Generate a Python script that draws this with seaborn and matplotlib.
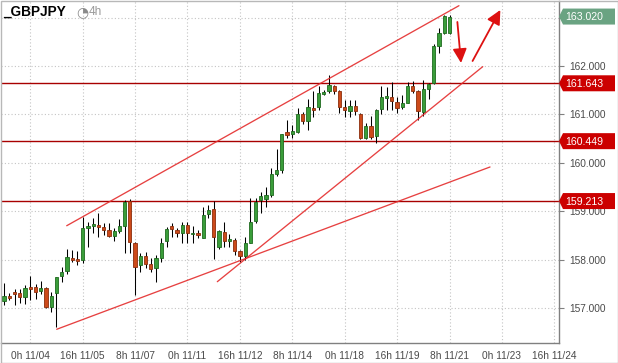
import numpy as np
import pandas as pd
import matplotlib
matplotlib.use("Agg")
import matplotlib.pyplot as plt
from matplotlib.patches import Polygon, Rectangle
from matplotlib.ticker import FuncFormatter
from matplotlib.transforms import IdentityTransform
import seaborn as sns

# GBPJPY 4h candles
opens = [157.157, 157.254, 157.343, 157.315, 157.240, 157.439, 157.439, 157.364, 157.419, 157.033,
         157.322, 157.673, 157.763, 158.038, 158.017, 157.996, 158.664, 158.705, 158.726, 158.684,
         158.616, 158.499, 158.602, 158.705, 159.214, 158.354, 157.893, 158.079, 157.914, 157.825,
         158.045, 158.389, 158.698, 158.616, 158.547, 158.726, 158.526, 158.547, 158.457, 158.946,
         159.049, 158.272, 158.581, 158.395, 158.409, 158.189, 158.086, 158.354, 158.808, 159.235,
         159.255, 159.338, 159.771, 159.854, 160.638, 160.590, 160.645, 161.009, 160.872, 161.133,
         161.147, 161.422, 161.491, 161.587, 161.491, 161.161, 161.078, 161.174, 161.009, 160.507,
         160.762, 160.555, 161.106, 161.346, 161.353, 161.257, 161.161, 161.243, 161.587, 161.491,
         161.057, 161.532, 161.642, 162.413, 162.688, 162.688]
highs = [157.515, 157.309, 157.391, 157.398, 157.480, 157.666, 157.501, 157.563, 157.430, 157.343,
         157.650, 157.859, 158.223, 158.203, 158.182, 158.891, 158.774, 158.863, 158.973, 158.753,
         158.753, 158.650, 158.836, 159.235, 159.255, 158.375, 158.148, 158.169, 158.031, 158.100,
         158.457, 158.684, 158.767, 158.650, 158.774, 158.774, 158.698, 158.616, 159.097, 159.131,
         159.214, 158.616, 158.788, 158.533, 158.443, 158.203, 158.478, 159.269, 159.269, 159.407,
         159.510, 159.888, 160.287, 160.600, 160.886, 160.782, 161.126, 161.058, 161.312, 161.484,
         161.587, 161.505, 161.814, 161.600, 161.505, 161.298, 161.298, 161.298, 161.020, 160.817,
         160.968, 161.106, 161.587, 161.573, 161.677, 161.353, 161.401, 161.677, 161.690, 161.505,
         161.711, 161.656, 162.447, 162.777, 163.052, 163.052]
lows = [157.068, 157.171, 157.068, 157.116, 157.088, 157.171, 157.198, 157.295, 156.999, 156.923,
        156.621, 157.549, 157.708, 157.962, 157.893, 157.941, 158.258, 158.547, 158.478, 158.512,
        158.478, 158.395, 158.547, 158.148, 158.134, 157.274, 157.756, 157.825, 157.756, 157.549,
        157.962, 158.272, 158.478, 158.478, 158.340, 158.340, 158.340, 158.444, 158.444, 158.856,
        158.010, 158.217, 158.272, 158.272, 158.099, 157.962, 157.996, 158.340, 158.753, 158.973,
        159.083, 159.303, 159.730, 159.785, 160.507, 160.507, 160.610, 160.803, 160.679, 160.954,
        161.092, 161.402, 161.450, 161.422, 161.037, 160.954, 160.954, 160.989, 160.486, 160.486,
        160.486, 160.404, 161.002, 161.092, 161.092, 161.023, 161.106, 161.229, 161.436, 160.885,
        160.968, 161.312, 161.628, 162.275, 162.660, 162.660]
closes = [157.254, 157.219, 157.302, 157.233, 157.412, 157.398, 157.343, 157.419, 157.020, 157.254,
          157.639, 157.749, 158.051, 157.996, 157.983, 158.657, 158.705, 158.746, 158.684, 158.622,
          158.499, 158.595, 158.698, 159.200, 158.375, 157.859, 158.079, 157.921, 157.804, 158.031,
          158.354, 158.629, 158.629, 158.547, 158.726, 158.547, 158.561, 158.506, 158.925, 159.028,
          158.478, 158.595, 158.395, 158.430, 158.189, 158.086, 158.340, 158.774, 159.200, 159.317,
          159.338, 159.771, 159.854, 160.597, 160.583, 160.659, 161.009, 160.872, 161.147, 161.099,
          161.436, 161.463, 161.608, 161.491, 161.161, 161.092, 161.174, 161.078, 160.507, 160.762,
          160.528, 161.092, 161.353, 161.381, 161.285, 161.140, 161.229, 161.587, 161.491, 161.078,
          161.518, 161.628, 162.413, 162.674, 163.032, 163.020]

tick_labels = ["0h 11/04", "16h 11/05", "8h 11/07", "0h 11/11", "16h 11/12", "8h 11/14",
               "0h 11/18", "16h 11/19", "8h 11/21", "0h 11/23", "16h 11/24"]
tick_bars = [5, 15, 25, 35, 45, 55, 65, 75, 85, 95, 105]
price_ticks = [157, 158, 159, 160, 161, 162, 163]

levels = [161.643, 160.449, 159.213]
last_price = 163.020

# trend lines: bar index / price endpoints
line_names = ["upper", "upper", "support", "support", "long", "long"]
line_x = [11.95, 86.8, 40.69, 91.34, 10.04, 92.73]
line_y = [158.704, 163.244, 157.549, 161.986, 156.567, 159.916]

# arrows (start -> tip)
arrow_start = [(86.5, 162.908), (89.4, 162.103)]
arrow_end = [(87.2, 162.062), (94.7, 163.156)]

W, H = 618, 363
GREEN, GREEN_EDGE = "#3a9d3a", "#1f6a1f"
RED, RED_EDGE = "#cc4a1a", "#8b2e0c"
LINE_RED = "#e42c2c"

sns.set_theme(style="white")
plt.rcParams["font.family"] = ["Liberation Sans", "DejaVu Sans"]

fig = plt.figure(figsize=(W / 100, H / 100), dpi=100)
fig.patch.set_facecolor("white")
ax = fig.add_axes([1 / W, (H - 343) / H, 557.5 / W, 342 / H])
ax.set_facecolor("white")

o = np.array(opens)
c = np.array(closes)
idx = np.arange(len(o))
up = c >= o
bottom = np.minimum(o, c)
height = np.maximum(np.abs(c - o), 0.014)

ax.vlines(idx, lows, highs, color="black", lw=0.75, zorder=3)
ax.bar(idx[up], height[up], bottom=bottom[up], width=0.62, color=GREEN,
       edgecolor=GREEN_EDGE, lw=0.6, zorder=4)
ax.bar(idx[~up], height[~up], bottom=bottom[~up], width=0.62, color=RED,
       edgecolor=RED_EDGE, lw=0.6, zorder=4)

for lv in levels:
    ax.axhline(lv, color="#a80000", lw=1.0, zorder=2)

trend = pd.DataFrame({"line": line_names, "bar": line_x, "price": line_y})
sns.lineplot(data=trend, x="bar", y="price", units="line", estimator=None,
             color=LINE_RED, lw=0.95, alpha=0.9, ax=ax, zorder=5, legend=False)

for s, e in zip(arrow_start, arrow_end):
    ax.annotate("", xy=e, xytext=s, zorder=6,
                arrowprops=dict(arrowstyle="-|>,head_length=0.85,head_width=0.42",
                                mutation_scale=10, color="#dd1111", lw=1.3,
                                shrinkA=0, shrinkB=0))

ax.set_xlim(-0.59, 105.8)
ax.set_ylim(156.284, 163.341)
ax.set_xlabel("")
ax.set_ylabel("")

ax.set_xticks(tick_bars)
ax.set_xticklabels(tick_labels)
ax.set_yticks(price_ticks)
# the 163 label sits under the last-price tag, so leave it blank
ax.yaxis.set_major_formatter(FuncFormatter(lambda v, pos: "" if v >= 163 else f"{v:.3f}"))
ax.yaxis.tick_right()
ax.tick_params(axis="both", direction="out", length=3.5, width=0.8, color="#808080",
               labelsize=7.3, labelcolor="#4a4a4a")
ax.tick_params(axis="x", pad=2)
ax.tick_params(axis="y", pad=4)
ax.grid(True, color="#c4c4c4", lw=0.8, linestyle=(0, (1, 2)))
ax.set_axisbelow(True)

for side in ["left", "top"]:
    ax.spines[side].set_visible(False)
for side in ["right", "bottom"]:
    ax.spines[side].set_color("#808080")
    ax.spines[side].set_linewidth(1.0)

# price tags on the right axis
def price_tag(value, color):
    yc = ax.transData.transform((0, value))[1]
    x0, x1, x2 = 559, 563, 615
    poly = Polygon([(x0, yc), (x1, yc + 8), (x2, yc + 8), (x2, yc - 8), (x1, yc - 8)],
                   closed=True, facecolor=color, edgecolor="none",
                   transform=IdentityTransform(), zorder=5)
    fig.add_artist(poly)
    fig.text(565, yc - 0.5, f"{value:.3f}", transform=IdentityTransform(), color="white",
             fontsize=7.6, va="center", ha="left", zorder=6)

for lv in levels:
    price_tag(lv, "#cc0000")
price_tag(last_price, "#6aa382")

# title
fig.text(3 / W, 1 - 12 / H, "_GBPJPY", fontsize=9.8, fontweight="bold", color="black",
         va="center", ha="left")
fig.text(76 / W, 1 - 12 / H, "\u25d4", fontsize=10, color="#8a8a8a", va="center",
         ha="left", family="DejaVu Sans")
fig.text(89 / W, 1 - 12 / H, "4h", fontsize=8.5, color="#9a9a9a", va="center", ha="left")

# outer frame
fig.add_artist(Rectangle((0.5, 0.5), W - 1, H - 1, transform=IdentityTransform(),
                         fill=False, edgecolor="#b8b8b8", lw=1.0))

fig.savefig("out.png", dpi=100, facecolor="white")
